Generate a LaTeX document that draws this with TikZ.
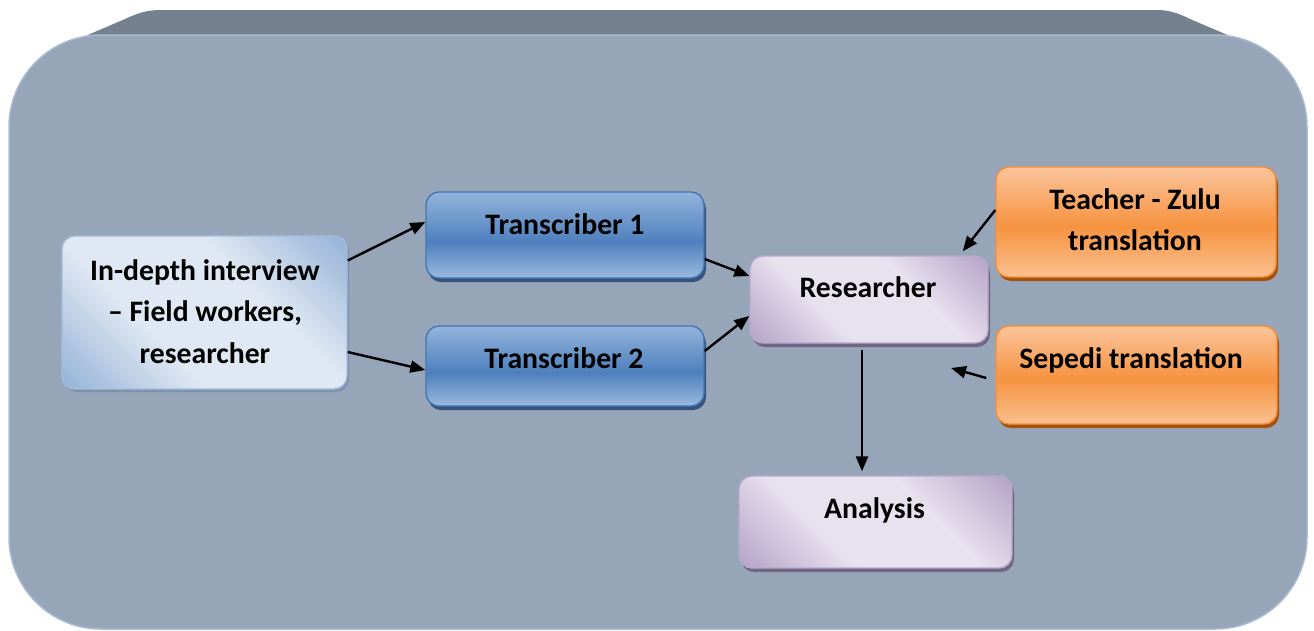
\documentclass[tikz,border=0pt]{standalone}
\usepackage{fontspec}
\setmainfont{Carlito}
\usetikzlibrary{arrows.meta,shadows}

% palette
\definecolor{frameFill}{HTML}{97A5B8}
\definecolor{frameEdge}{HTML}{A9BAD2}
\definecolor{frameBand}{HTML}{76818F}
\definecolor{ivDark}{HTML}{95B3D7}
\definecolor{ivLight}{HTML}{DFE8F3}
\definecolor{ivEdge}{HTML}{A3BDDD}
\definecolor{ivShadow}{HTML}{7E91AC}
\definecolor{blTop}{HTML}{93B4DC}
\definecolor{blMid}{HTML}{4E80BD}
\definecolor{blBot}{HTML}{9AB9DF}
\definecolor{blEdge}{HTML}{4476B2}
\definecolor{blShadow}{HTML}{34537B}
\definecolor{orTop}{HTML}{FBC49B}
\definecolor{orMid}{HTML}{F69340}
\definecolor{orBot}{HTML}{FAC090}
\definecolor{orEdge}{HTML}{F58E38}
\definecolor{orShadow}{HTML}{A5520E}
\definecolor{lvDark}{HTML}{B4A3C8}
\definecolor{lvLight}{HTML}{E8E2EF}
\definecolor{lvEdge}{HTML}{B8A8CC}
\definecolor{lvShadow}{HTML}{716584}

% gradients
\pgfdeclareverticalshading{bluebar}{100bp}{color(0bp)=(blBot); color(25bp)=(blBot); color(46bp)=(blMid); color(75bp)=(blTop); color(100bp)=(blTop)}
\pgfdeclareverticalshading{orangebar}{100bp}{color(0bp)=(orBot); color(25bp)=(orBot); color(48bp)=(orMid); color(75bp)=(orTop); color(100bp)=(orTop)}
\pgfdeclarehorizontalshading{ivdiag}{100bp}{color(0bp)=(ivDark); color(15bp)=(ivDark); color(38bp)=(ivLight); color(62bp)=(ivLight); color(85bp)=(ivDark); color(100bp)=(ivDark)}
\pgfdeclarehorizontalshading{lvdiag}{100bp}{color(0bp)=(lvDark); color(15bp)=(lvDark); color(38bp)=(lvLight); color(62bp)=(lvLight); color(85bp)=(lvDark); color(100bp)=(lvDark)}

\tikzset{
  box/.style={rectangle, rounded corners=13pt, inner sep=0pt, line width=1.4pt},
  interviewbox/.style={box, shading=ivdiag, shading angle=45, draw=ivEdge,
    drop shadow={shadow xshift=2pt, shadow yshift=-3pt, fill=ivShadow, opacity=1}},
  bluebox/.style={box, shading=bluebar, draw=blEdge,
    drop shadow={shadow xshift=2pt, shadow yshift=-4pt, fill=blShadow, opacity=1}},
  orangebox/.style={box, shading=orangebar, draw=orEdge,
    drop shadow={shadow xshift=2pt, shadow yshift=-4pt, fill=orShadow, opacity=1}},
  lavbox/.style={box, shading=lvdiag, shading angle=45, draw=lvEdge,
    drop shadow={shadow xshift=2pt, shadow yshift=-4pt, fill=lvShadow, opacity=1}},
  lbl/.style={font=\fontsize{29.7}{41.5}\selectfont\bfseries, align=center, inner sep=0pt, anchor=base},
  flow/.style={line width=2.4pt, -{Triangle[length=15pt,width=12pt]}},
}

\begin{document}
\begin{tikzpicture}[x=1pt,y=-1pt]
\useasboundingbox (0,0) rectangle (1314,630);

% backdrop: bevelled top face and the main panel
\fill[frameBand] (92,62) -- (76,40) -- (125,19) .. controls (140,12) and (148,10) .. (162,10)
  -- (1155,10) .. controls (1168,10) and (1176,12) .. (1190,19) -- (1238,39.5) -- (1222,62) -- cycle;
\filldraw[fill=frameFill, draw=frameEdge, line width=1.5pt, rounded corners=92pt]
  (9,35) rectangle (1307,629);

% boxes
\node[interviewbox, minimum width=285pt, minimum height=153pt] (interview) at (204.5,312.5) {};
\node[bluebox, minimum width=278pt, minimum height=86pt] (trans1) at (565,235) {};
\node[bluebox, minimum width=278pt, minimum height=80pt] (trans2) at (565,366) {};
\node[lavbox, minimum width=238pt, minimum height=87pt] (researcher) at (869,299.5) {};
\node[lavbox, minimum width=273pt, minimum height=92pt] (analysis) at (875.5,522) {};
\node[orangebox, minimum width=280pt, minimum height=110pt] (zulu) at (1136,222) {};
\node[orangebox, minimum width=281pt, minimum height=98pt] (sepedi) at (1136.5,375) {};

% labels (base anchor of a multi-line label sits on its last line)
\node[lbl] (interviewtxt) at (205,363) {In-depth interview\\– Field workers,\\researcher};
\node[lbl] (trans1txt) at (565,234) {Transcriber 1};
\node[lbl] (trans2txt) at (564,368) {Transcriber 2};
\node[lbl] (researchertxt) at (868,297) {Researcher};
\node[lbl] (analysistxt) at (874.5,518) {Analysis};
\node[lbl] (zulutxt) at (1135,250.5) {Teacher - Zulu\\translation};
\node[lbl] (sepeditxt) at (1131,368.5) {Sepedi translation};

% connectors
\coordinate (sepeditip) at (951,368);
\draw[flow] ([yshift=52pt]interview.east) -- ([yshift=13pt]trans1.west);
\draw[flow] ([yshift=-39.5pt]interview.east) -- ([yshift=-4pt]trans2.west);
\draw[flow] ([yshift=-24pt]trans1.east) -- ([yshift=23.5pt]researcher.west);
\draw[flow] ([yshift=15pt]trans2.east) -- ([yshift=-16.5pt]researcher.west);
\draw[flow] ([yshift=12pt]zulu.west) -- ([xshift=-26pt,yshift=4pt]researcher.north east);
\draw[flow] ([xshift=-9pt,yshift=-3pt]sepedi.west) -- (sepeditip);
\draw[flow] ([xshift=-7pt,yshift=-6pt]researcher.south) -- ([xshift=-13.5pt,yshift=4pt]analysis.north);
\end{tikzpicture}
\end{document}
